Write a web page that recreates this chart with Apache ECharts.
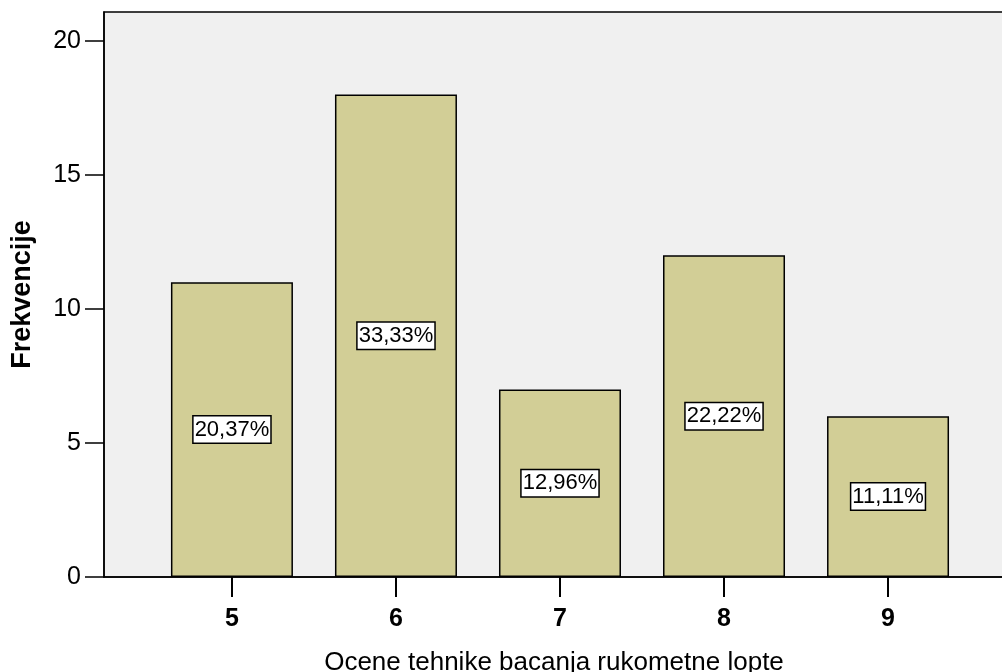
<!DOCTYPE html>
<html>
<head>
<meta charset="utf-8">
<script src="https://cdn.jsdelivr.net/npm/echarts@6/dist/echarts.min.js"></script>
<style>
html,body{margin:0;padding:0;background:#fff;}
#c{width:1002px;height:672px;}
</style>
</head>
<body>
<div id="c"></div>
<script>
const categories = [5, 6, 7, 8, 9];
const frequencies = [11, 18, 7, 12, 6];
const percentLabels = ['20,37%', '33,33%', '12,96%', '22,22%', '11,11%'];
const yTicks = [0, 5, 10, 15, 20];

const chart = echarts.init(document.getElementById('c'), null, {renderer: 'canvas'});
const font = '"Liberation Sans", Arial, Helvetica, sans-serif';

chart.setOption({
  backgroundColor: '#ffffff',
  animation: false,
  grid: {
    left: 104, right: -2, top: 12, bottom: 95,
    containLabel: false,
    outerBoundsMode: 'none',
    show: true, backgroundColor: '#f0f0f0', borderColor: '#000', borderWidth: 1.5
  },
  xAxis: {
    type: 'value',
    min: 4.22, max: 9.707,
    name: 'Ocene tehnike bacanja rukometne lopte',
    nameLocation: 'middle',
    nameGap: 73,
    nameTextStyle: {fontFamily: font, fontSize: 26, color: '#000'},
    splitLine: {show: false},
    axisLine: {show: true, onZero: false, lineStyle: {color: '#000', width: 1.5}},
    axisTick: {show: true, customValues: categories, length: 20, lineStyle: {color: '#000', width: 2}},
    axisLabel: {show: true, customValues: categories, margin: 30, fontFamily: font, fontSize: 25, fontWeight: 'bold', color: '#000'}
  },
  yAxis: {
    type: 'value',
    min: 0, max: 21.08,
    name: 'Frekvencije',
    nameLocation: 'middle',
    nameGap: 68,
    nameTextStyle: {fontFamily: font, fontSize: 27, fontWeight: 'bold', color: '#000'},
    splitLine: {show: false},
    axisLine: {show: true, lineStyle: {color: '#000', width: 1.5}},
    axisTick: {show: true, customValues: yTicks, length: 19, lineStyle: {color: '#000', width: 1.5}},
    axisLabel: {show: true, customValues: yTicks, margin: 23, fontFamily: font, fontSize: 25, color: '#000'}
  },
  series: [{
    type: 'bar',
    data: categories.map((c, i) => [c, frequencies[i]]),
    barWidth: 122,
    itemStyle: {color: '#d2ce96', borderColor: '#000', borderWidth: 1.5},
    label: {
      show: true,
      position: 'inside',
      formatter: p => percentLabels[p.dataIndex],
      fontFamily: font, fontSize: 22, color: '#000',
      backgroundColor: '#fff', borderColor: '#000', borderWidth: 1.5,
      padding: [3, 1, 1, 1]
    }
  }]
});
</script>
</body>
</html>
